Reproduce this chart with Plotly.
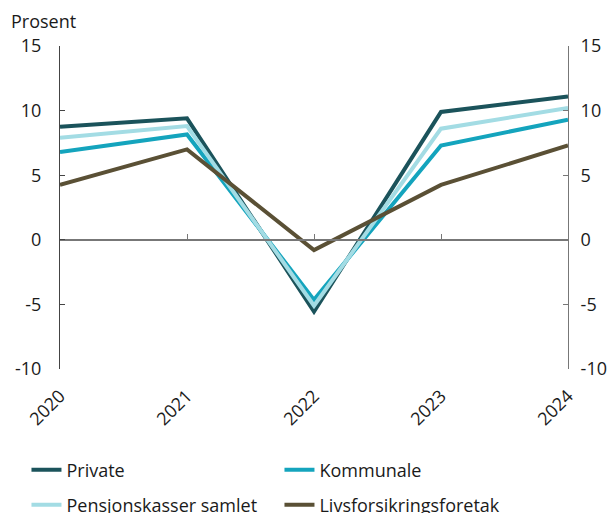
import plotly.graph_objects as go

years = [2020, 2021, 2022, 2023, 2024]
private = [8.75, 9.4, -5.55, 9.9, 11.1]
kommunale = [6.8, 8.15, -4.65, 7.3, 9.3]
pensjonskasser = [7.9, 8.8, -5.1, 8.6, 10.2]
livsforsikring = [4.25, 7.0, -0.8, 4.25, 7.3]
y_ticks = [-10, -5, 0, 5, 10, 15]
y_ticktext = ["-10", "-5", "0", "5", "10", "15"]

series = [
    ("Private", private, "#1b535b", "legend"),
    ("Kommunale", kommunale, "#14a4bd", "legend"),
    ("Pensjonskasser samlet", pensjonskasser, "#a3dce4", "legend2"),
    ("Livsforsikringsforetak", livsforsikring, "#5a5035", "legend2"),
]

FONT = "Open Sans"
fig = go.Figure()
for name, vals, col, lg in series:
    fig.add_trace(go.Scatter(x=years, y=vals, name=name, mode="lines", legend=lg,
                             line=dict(color=col, width=4)))
fig.add_trace(go.Scatter(x=years, y=private, yaxis="y2", showlegend=False,
                         mode="lines", line=dict(width=0), hoverinfo="skip"))
fig.add_trace(go.Scatter(x=years, y=private, xaxis="x2", showlegend=False,
                         mode="lines", line=dict(width=0), hoverinfo="skip"))

leg_common = dict(orientation="h", x=-0.066, xanchor="left", yanchor="middle",
                  entrywidth=208, entrywidthmode="pixels",
                  font=dict(size=18), traceorder="normal",
                  bgcolor="rgba(0,0,0,0)")

fig.update_layout(
    width=615, height=513,
    margin=dict(l=52, r=55, t=38, b=152, autoexpand=False),
    plot_bgcolor="white", paper_bgcolor="white",
    font=dict(family=FONT, size=18, color="#1a1a1a"),
    showlegend=True,
    legend=dict(leg_common, y=-0.313),
    legend2=dict(leg_common, y=-0.421),
    xaxis=dict(range=[2020, 2024], tickvals=years, ticktext=[str(y) for y in years],
               tickangle=-45, showline=False, showgrid=False, zeroline=False,
               ticks="", ticklen=0, ticklabelstandoff=12),
    xaxis2=dict(range=[2020, 2024], overlaying="x", anchor="free", position=0.4,
                tickvals=years, showticklabels=False, ticks="inside", ticklen=5,
                tickcolor="#777", showline=True, linecolor="#777", linewidth=1.5,
                showgrid=False, zeroline=False),
    yaxis=dict(range=[-10, 15], tickvals=y_ticks, ticktext=y_ticktext,
               showgrid=False, zeroline=False,
               showline=True, linecolor="#444", linewidth=1, ticks="inside",
               ticklen=5, tickcolor="#444", ticklabelstandoff=14),
    yaxis2=dict(range=[-10, 15], tickvals=y_ticks, ticktext=y_ticktext,
                overlaying="y", side="right",
                showgrid=False, zeroline=False, showline=True, linecolor="#777",
                linewidth=1, ticks="inside", ticklen=5, tickcolor="#777",
                ticklabelstandoff=8),
    annotations=[dict(text="Prosent", xref="paper", yref="paper", x=-0.1, y=1.035,
                      xanchor="left", yanchor="bottom", showarrow=False,
                      font=dict(size=18))],
)
fig.write_html("out.html")
